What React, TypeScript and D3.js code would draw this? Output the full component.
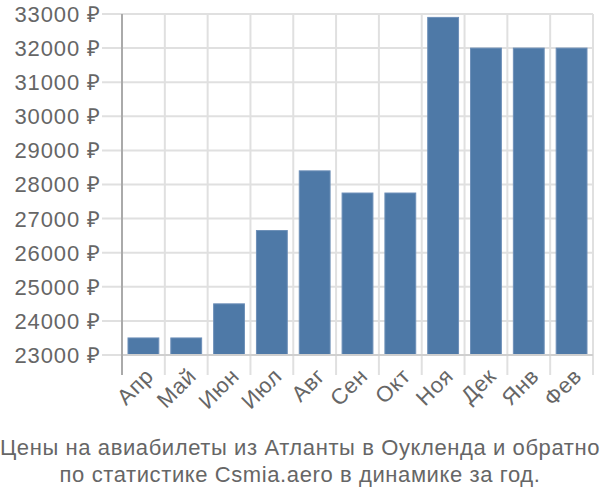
import React from "react";
import * as d3 from "d3";

const months = ["Апр", "Май", "Июн", "Июл", "Авг", "Сен", "Окт", "Ноя", "Дек", "Янв", "Фев"];
const prices = [23500, 23500, 24500, 26650, 28400, 27750, 27750, 32900, 32000, 32000, 32000];
const yTicks = [23000, 24000, 25000, 26000, 27000, 28000, 29000, 30000, 31000, 32000, 33000];
const titleLines = [
  "Цены на авиабилеты из Атланты в Оукленда и обратно",
  "по статистике Csmia.aero в динамике за год.",
];

export default function App() {
  const W = 600, H = 500;
  const left = 122, right = 593, top = 14, bottom = 355;
  const x = d3.scaleBand<string>().domain(months).range([left, right]).paddingInner(0.28).paddingOuter(0.14);
  const xb = d3.scaleBand<string>().domain(months).range([left, right]);
  const y = d3.scaleLinear().domain([23000, 33000]).range([bottom, top]);
  const font = "'Liberation Sans', Arial, sans-serif";
  return (
    <svg width={W} height={H} style={{ position: "absolute", left: 0, top: 0 }} fontFamily={font}>
      {yTicks.map((t) => (
        <g key={t}>
          <line x1={102} x2={right} y1={y(t)} y2={y(t)} stroke="#e0e0e0" strokeWidth={2} />
          <text x={101} y={y(t)} dy="0.36em" textAnchor="end" fontSize={22} letterSpacing={0.9} fill="#666">
            {t} ₽
          </text>
        </g>
      ))}
      {months.map((m) => (
        <line key={m} x1={xb(m)!} x2={xb(m)!} y1={top} y2={375} stroke="#e0e0e0" strokeWidth={2} />
      ))}
      <line x1={right} x2={right} y1={top} y2={375} stroke="#e0e0e0" strokeWidth={2} />
      {months.map((m, i) => (
        <rect
          key={m}
          x={x(m)!}
          y={y(prices[i])}
          width={x.bandwidth()}
          height={bottom - y(prices[i])}
          fill="#4e79a7"
          stroke="#6d8fb8"
          strokeWidth={1}
        />
      ))}
      <line x1={left} x2={right} y1={bottom} y2={bottom} stroke="#cfcfcf" strokeWidth={2} />
      <line x1={left} x2={left} y1={top} y2={375} stroke="#aaa" strokeWidth={2} />
      {months.map((m) => {
        const cx = xb(m)! + xb.bandwidth() / 2 + 6;
        const cy = 372;
        return (
          <text
            key={m}
            x={cx}
            y={cy}
            textAnchor="end"
            fontSize={22}
            letterSpacing={0.6}
            fill="#666"
            transform={`rotate(-45 ${cx} ${cy})`}
            dy="0.35em"
          >
            {m}
          </text>
        );
      })}
      {titleLines.map((l, i) => (
        <text key={i} x={300} y={455 + i * 27} textAnchor="middle" fontSize={22} letterSpacing={0.6} fill="#666">
          {l}
        </text>
      ))}
    </svg>
  );
}
